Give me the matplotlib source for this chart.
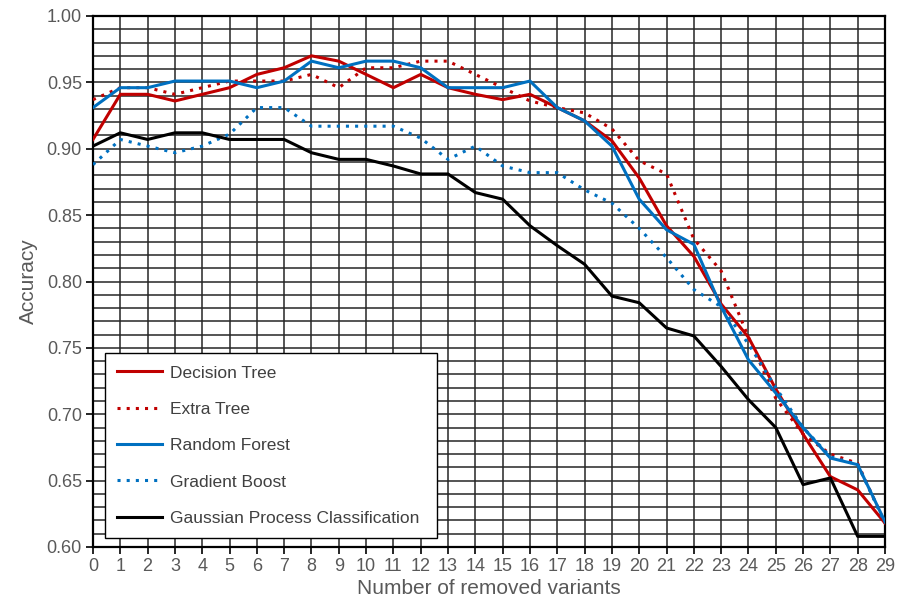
import matplotlib
matplotlib.use("Agg")
import matplotlib.pyplot as plt
from matplotlib.ticker import MultipleLocator

plt.rcParams['font.family'] = ['Liberation Sans', 'DejaVu Sans']

x = list(range(30))
decision_tree = [0.907, 0.941, 0.941, 0.936, 0.941, 0.946, 0.956, 0.961, 0.970, 0.966,
                 0.956, 0.946, 0.956, 0.946, 0.941, 0.937, 0.941, 0.931, 0.921, 0.906,
                 0.878, 0.842, 0.819, 0.783, 0.758, 0.719, 0.685, 0.653, 0.643, 0.618]
extra_tree = [0.937, 0.946, 0.946, 0.941, 0.946, 0.951, 0.951, 0.951, 0.956, 0.946,
              0.961, 0.961, 0.966, 0.966, 0.956, 0.946, 0.936, 0.931, 0.927, 0.915,
              0.891, 0.881, 0.832, 0.808, 0.758, 0.712, 0.685, 0.670, 0.663, 0.618]
random_forest = [0.931, 0.946, 0.946, 0.951, 0.951, 0.951, 0.946, 0.951, 0.966, 0.961,
                 0.966, 0.966, 0.961, 0.946, 0.946, 0.946, 0.951, 0.931, 0.921, 0.902,
                 0.862, 0.839, 0.828, 0.781, 0.741, 0.716, 0.690, 0.667, 0.662, 0.619]
gradient_boost = [0.888, 0.907, 0.902, 0.897, 0.902, 0.911, 0.931, 0.931, 0.917, 0.917,
                  0.917, 0.917, 0.908, 0.892, 0.902, 0.887, 0.882, 0.882, 0.869, 0.859,
                  0.840, 0.818, 0.794, 0.781, 0.753, 0.720, 0.690, 0.668, 0.662, 0.618]
gaussian_pc = [0.902, 0.912, 0.907, 0.912, 0.912, 0.907, 0.907, 0.907, 0.897, 0.892,
               0.892, 0.887, 0.881, 0.881, 0.867, 0.862, 0.842, 0.827, 0.813, 0.789,
               0.784, 0.765, 0.759, 0.736, 0.711, 0.690, 0.647, 0.652, 0.608, 0.608]

series_names = ["Decision Tree", "Extra Tree", "Random Forest", "Gradient Boost",
                "Gaussian Process Classification"]

RED = "#C00000"
BLUE = "#0070C0"

fig = plt.figure(figsize=(9.08, 6.07), dpi=100)
ax = fig.add_axes([93/908, 1-547/607, (885-93)/908, (547-16)/607])

lw = 2.2
ax.plot(x, decision_tree, color=RED, lw=lw, label=series_names[0], zorder=5)
ax.plot(x, extra_tree, color=RED, lw=lw, ls=(0, (1, 2)), label=series_names[1], zorder=5)
ax.plot(x, random_forest, color=BLUE, lw=lw, label=series_names[2], zorder=5)
ax.plot(x, gradient_boost, color=BLUE, lw=lw, ls=(0, (1, 2)), label=series_names[3], zorder=5)
ax.plot(x, gaussian_pc, color="black", lw=lw, label=series_names[4], zorder=5)

ax.set_xlim(0, 29)
ax.set_ylim(0.60, 1.00)
ax.set_xticks(x)
ax.yaxis.set_major_locator(MultipleLocator(0.05))
ax.yaxis.set_minor_locator(MultipleLocator(0.01))
ax.yaxis.set_major_formatter(matplotlib.ticker.FormatStrFormatter('%.2f'))
ax.grid(True, which='both', color='#262626', lw=1.1)
ax.set_axisbelow(True)
ax.tick_params(axis='both', which='major', labelsize=13, labelcolor='#595959',
               color='black', length=5, width=1.2, direction='out', pad=3)
ax.tick_params(axis='y', which='minor', length=0)
for s in ax.spines.values():
    s.set_color('black')
    s.set_linewidth(1.6)

ax.set_xlabel("Number of removed variants", fontsize=15, color='#595959', labelpad=3)
ax.set_ylabel("Accuracy", fontsize=15, color='#595959', labelpad=6)

leg = ax.legend(loc='lower left', bbox_to_anchor=(12/792, 9/531, 332/792, 182/531),
                mode='expand', borderaxespad=0, fontsize=12.5, handlelength=2.6,
                handletextpad=0.45, labelspacing=1.22, borderpad=0.7,
                fancybox=False, framealpha=1, edgecolor='black')
leg.get_frame().set_linewidth(1.0)
for t in leg.get_texts():
    t.set_color('#404040')

fig.savefig("out.png", dpi=100)
